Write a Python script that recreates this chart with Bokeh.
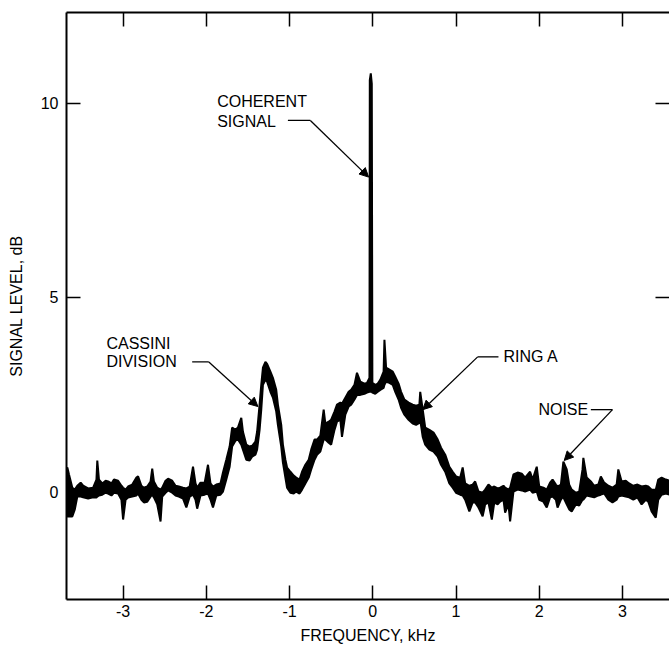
from bokeh.plotting import figure
from bokeh.models import Range1d, LinearAxis, FixedTicker, Arrow, NormalHead, Label, ColumnDataSource
from bokeh.embed import file_html
from bokeh.resources import INLINE

# ---- data ----
freq = [-3.68, -3.67, -3.65, -3.61, -3.58, -3.55, -3.51, -3.48, -3.42, -3.36,
        -3.32, -3.31, -3.29, -3.25, -3.21, -3.18, -3.14, -3.11, -3.06, -3.02,
        -3.00, -2.97, -2.94, -2.89, -2.84, -2.82, -2.78, -2.75, -2.71, -2.67,
        -2.65, -2.63, -2.59, -2.55, -2.53, -2.49, -2.46, -2.41, -2.37, -2.33,
        -2.28, -2.24, -2.20, -2.16, -2.13, -2.11, -2.07, -2.02, -1.98, -1.95,
        -1.92, -1.88, -1.83, -1.80, -1.76, -1.72, -1.69, -1.65, -1.62, -1.58,
        -1.56, -1.52, -1.48, -1.45, -1.41, -1.39, -1.36, -1.34, -1.32, -1.29,
        -1.27, -1.23, -1.20, -1.16, -1.14, -1.10, -1.08, -1.05, -1.03, -0.99,
        -0.95, -0.92, -0.88, -0.85, -0.81, -0.77, -0.74, -0.70, -0.67, -0.63,
        -0.59, -0.57, -0.53, -0.50, -0.46, -0.43, -0.39, -0.37, -0.33, -0.29,
        -0.26, -0.22, -0.19, -0.15, -0.10, -0.07, -0.04, -0.036, -0.024, -0.012,
        -0.005, 0.03, 0.06, 0.09, 0.13, 0.14, 0.16, 0.20, 0.24, 0.27,
        0.31, 0.34, 0.38, 0.43, 0.48, 0.52, 0.56, 0.57, 0.60, 0.63,
        0.68, 0.73, 0.78, 0.82, 0.87, 0.92, 0.96, 1.00, 1.05, 1.08,
        1.11, 1.16, 1.20, 1.23, 1.27, 1.32, 1.35, 1.39, 1.43, 1.46,
        1.50, 1.53, 1.57, 1.59, 1.63, 1.65, 1.69, 1.74, 1.79, 1.83,
        1.89, 1.92, 1.97, 2.00, 2.05, 2.09, 2.13, 2.16, 2.20, 2.22,
        2.26, 2.28, 2.29, 2.33, 2.36, 2.39, 2.44, 2.48, 2.52, 2.53,
        2.57, 2.62, 2.66, 2.71, 2.74, 2.78, 2.83, 2.88, 2.93, 2.95,
        2.99, 3.04, 3.08, 3.13, 3.18, 3.23, 3.28, 3.31, 3.35, 3.40,
        3.43, 3.47, 3.52, 3.57]

level_hi = [0.57, 0.62, 0.44, 0.10, 0.05, 0.15, 0.23, 0.15, 0.08, 0.10,
            0.31, 0.80, 0.31, 0.21, 0.28, 0.26, 0.21, 0.31, 0.28, 0.15,
            0.10, 0.05, 0.13, 0.18, 0.36, 0.39, 0.15, 0.10, 0.13, 0.26,
            0.59, 0.26, 0.10, 0.05, 0.10, 0.28, 0.33, 0.28, 0.15, 0.13,
            0.10, 0.08, 0.13, 0.64, 0.21, 0.10, 0.23, 0.23, 0.69, 0.21,
            0.13, 0.18, 0.21, 0.49, 0.82, 1.16, 1.65, 1.59, 1.65, 1.90,
            1.54, 1.21, 1.16, 1.18, 1.29, 1.54, 2.24, 2.75, 3.19, 3.34,
            3.29, 3.09, 2.93, 2.62, 2.24, 1.72, 1.21, 0.82, 0.62, 0.51,
            0.41, 0.36, 0.31, 0.51, 0.69, 0.82, 1.08, 1.34, 1.34, 1.44,
            2.11, 1.75, 1.80, 1.85, 2.06, 2.24, 2.29, 2.26, 2.42, 2.57,
            2.62, 2.75, 3.06, 2.83, 2.78, 2.80, 2.93, 10.60, 10.77, 10.50,
            2.80, 2.75, 2.78, 2.88, 3.09, 3.91, 3.19, 3.14, 3.09, 2.96,
            2.78, 2.57, 2.37, 2.29, 2.24, 2.21, 2.24, 2.57, 2.11, 1.65,
            1.59, 1.52, 1.34, 1.13, 0.95, 0.64, 0.51, 0.39, 0.36, 0.62,
            0.21, 0.15, 0.18, 0.26, 0.00, -0.03, 0.05, 0.18, 0.10, 0.13,
            0.08, 0.10, 0.15, 0.10, 0.05, 0.10, 0.44, 0.49, 0.46, 0.36,
            0.51, 0.31, 0.64, 0.13, 0.10, 0.05, 0.23, 0.31, 0.18, 0.13,
            0.18, 0.57, 0.77, 0.57, 0.18, 0.05, -0.03, 0.00, 0.57, 0.87,
            0.36, 0.26, 0.15, 0.18, 0.39, 0.23, 0.15, 0.10, 0.18, 0.57,
            0.26, 0.28, 0.21, 0.15, 0.18, 0.13, 0.15, 0.13, 0.05, 0.05,
            0.31, 0.36, 0.31, 0.28]

level_lo = [-0.21, -0.64, -0.64, -0.64, -0.46, -0.13, -0.13, -0.15, -0.18, -0.15,
            -0.15, -0.13, -0.10, -0.08, -0.03, -0.05, -0.10, -0.03, -0.05, -0.21,
            -0.72, -0.21, -0.15, -0.13, -0.10, -0.05, -0.21, -0.28, -0.26, -0.13,
            -0.08, -0.15, -0.33, -0.77, -0.13, -0.03, 0.03, -0.03, -0.10, -0.13,
            -0.18, -0.41, -0.13, -0.08, -0.21, -0.44, -0.10, -0.08, -0.05, -0.21,
            -0.41, -0.10, -0.08, 0.00, 0.31, 0.64, 1.16, 1.31, 1.34, 1.21,
            1.08, 0.82, 0.80, 0.90, 0.95, 1.08, 1.59, 2.11, 2.75, 2.88,
            2.83, 2.57, 2.42, 2.06, 1.72, 1.16, 0.75, 0.36, 0.10, -0.03,
            -0.05, 0.00, -0.05, 0.05, 0.21, 0.36, 0.57, 0.82, 0.95, 1.03,
            1.34, 1.34, 1.26, 1.21, 1.59, 1.80, 1.85, 1.41, 1.98, 2.19,
            2.24, 2.37, 2.49, 2.49, 2.52, 2.55, 2.57, 2.57, 2.57, 2.57,
            2.55, 2.52, 2.57, 2.62, 2.67, 2.75, 2.83, 2.80, 2.75, 2.57,
            2.37, 2.16, 1.98, 1.85, 1.75, 1.72, 1.77, 1.85, 1.41, 1.21,
            1.08, 1.03, 0.90, 0.69, 0.51, 0.21, 0.10, -0.03, -0.08, -0.10,
            -0.21, -0.51, -0.28, -0.28, -0.41, -0.64, -0.33, -0.28, -0.72, -0.28,
            -0.33, -0.26, -0.21, -0.54, -0.33, -0.77, 0.00, 0.05, 0.03, 0.00,
            0.05, -0.03, 0.00, -0.21, -0.26, -0.41, -0.15, -0.13, -0.21, -0.41,
            -0.21, -0.15, -0.15, -0.33, -0.46, -0.51, -0.33, -0.36, -0.21, -0.21,
            -0.10, -0.13, -0.15, -0.10, -0.08, -0.05, -0.21, -0.28, -0.21, -0.13,
            -0.10, -0.13, -0.15, -0.21, -0.15, -0.33, -0.21, -0.26, -0.51, -0.67,
            -0.21, -0.08, -0.05, -0.08]

x_ticks = [-3, -2, -1, 0, 1, 2, 3]
x_tick_labels = ["-3", "-2", "-1", "0", "1", "2", "3"]
y_ticks = [0, 5, 10]
y_tick_labels = ["0", "5", "10"]

# annotation texts
notes = ["COHERENT\nSIGNAL", "CASSINI\nDIVISION", "RING A", "NOISE"]

FONT = "Liberation Sans"
FS = "16px"

p = figure(width=669, height=646, output_backend="svg", toolbar_location=None,
           x_range=Range1d(-3.68, 3.565), y_range=Range1d(-2.78, 12.34),
           min_border_left=66, min_border_right=0, min_border_top=12,
           min_border_bottom=46)
p.outline_line_color = None
p.grid.visible = False
p.background_fill_color = "white"
p.border_fill_color = "white"

def style_axis(ax, ticks, labels=None):
    ax.ticker = FixedTicker(ticks=ticks)
    ax.minor_tick_line_color = None
    ax.major_tick_in = 14
    ax.major_tick_out = 0
    ax.major_tick_line_width = 1.5
    ax.major_tick_line_color = "black"
    ax.axis_line_width = 2
    ax.axis_line_color = "black"
    ax.major_label_text_font = FONT
    ax.major_label_text_font_size = FS
    ax.major_label_text_color = "black"
    if labels is not None:
        ax.major_label_overrides = {t: l for t, l in zip(ticks, labels)}
    else:
        ax.major_label_overrides = {t: "" for t in ticks}
        ax.major_label_standoff = 0

xa = p.xaxis[0]
style_axis(xa, x_ticks, x_tick_labels)
xa.axis_label = "FREQUENCY, kHz"
xa.major_label_standoff = 5
xa.axis_label_standoff = 7

ya = p.yaxis[0]
style_axis(ya, y_ticks, y_tick_labels)
ya.axis_label = "SIGNAL LEVEL, dB"
ya.major_label_standoff = 8
ya.axis_label_standoff = 13

for ax in (xa, ya):
    ax.axis_label_text_font = FONT
    ax.axis_label_text_font_size = FS
    ax.axis_label_text_font_style = "normal"
    ax.axis_label_text_color = "black"

top = LinearAxis()
style_axis(top, x_ticks)
p.add_layout(top, "above")

right = LinearAxis()
style_axis(right, y_ticks)
right.axis_line_color = None
p.add_layout(right, "right")

# ---- trace ----
src = ColumnDataSource(dict(f=freq, hi=level_hi, lo=level_lo))
p.varea(x="f", y1="lo", y2="hi", source=src, fill_color="black")
p.line(x="f", y="hi", source=src, line_color="black", line_width=2)
p.line(x="f", y="lo", source=src, line_color="black", line_width=2)

# ---- annotations ----
def note(text_lines, x, y, dy):
    for i, t in enumerate(text_lines):
        p.add_layout(Label(x=x, y=y - i * dy, text=t, text_font=FONT,
                           text_font_size=FS, text_color="black",
                           text_baseline="middle", text_align="left"))

def leader(xs, ys):
    p.line(xs[:2], ys[:2], line_color="black", line_width=1.3)
    p.add_layout(Arrow(end=NormalHead(size=9, fill_color="black", line_color="black"),
                       x_start=xs[1], y_start=ys[1], x_end=xs[2], y_end=ys[2],
                       line_color="black", line_width=1.3))

note(notes[0].split("\n"), -1.87, 10.05, 0.52)
leader([-1.02, -0.75, -0.05], [9.56, 9.56, 8.10])

note(notes[1].split("\n"), -3.20, 3.81, 0.47)
leader([-2.17, -1.97, -1.38], [3.34, 3.34, 2.19])

note([notes[2]], 1.57, 3.47, 0.5)
leader([1.51, 1.26, 0.60], [3.47, 3.47, 2.11])

note([notes[3]], 1.99, 2.11, 0.5)
leader([2.62, 2.88, 2.30], [2.11, 2.11, 0.80])

open("out.html", "w").write(file_html(p, INLINE))
